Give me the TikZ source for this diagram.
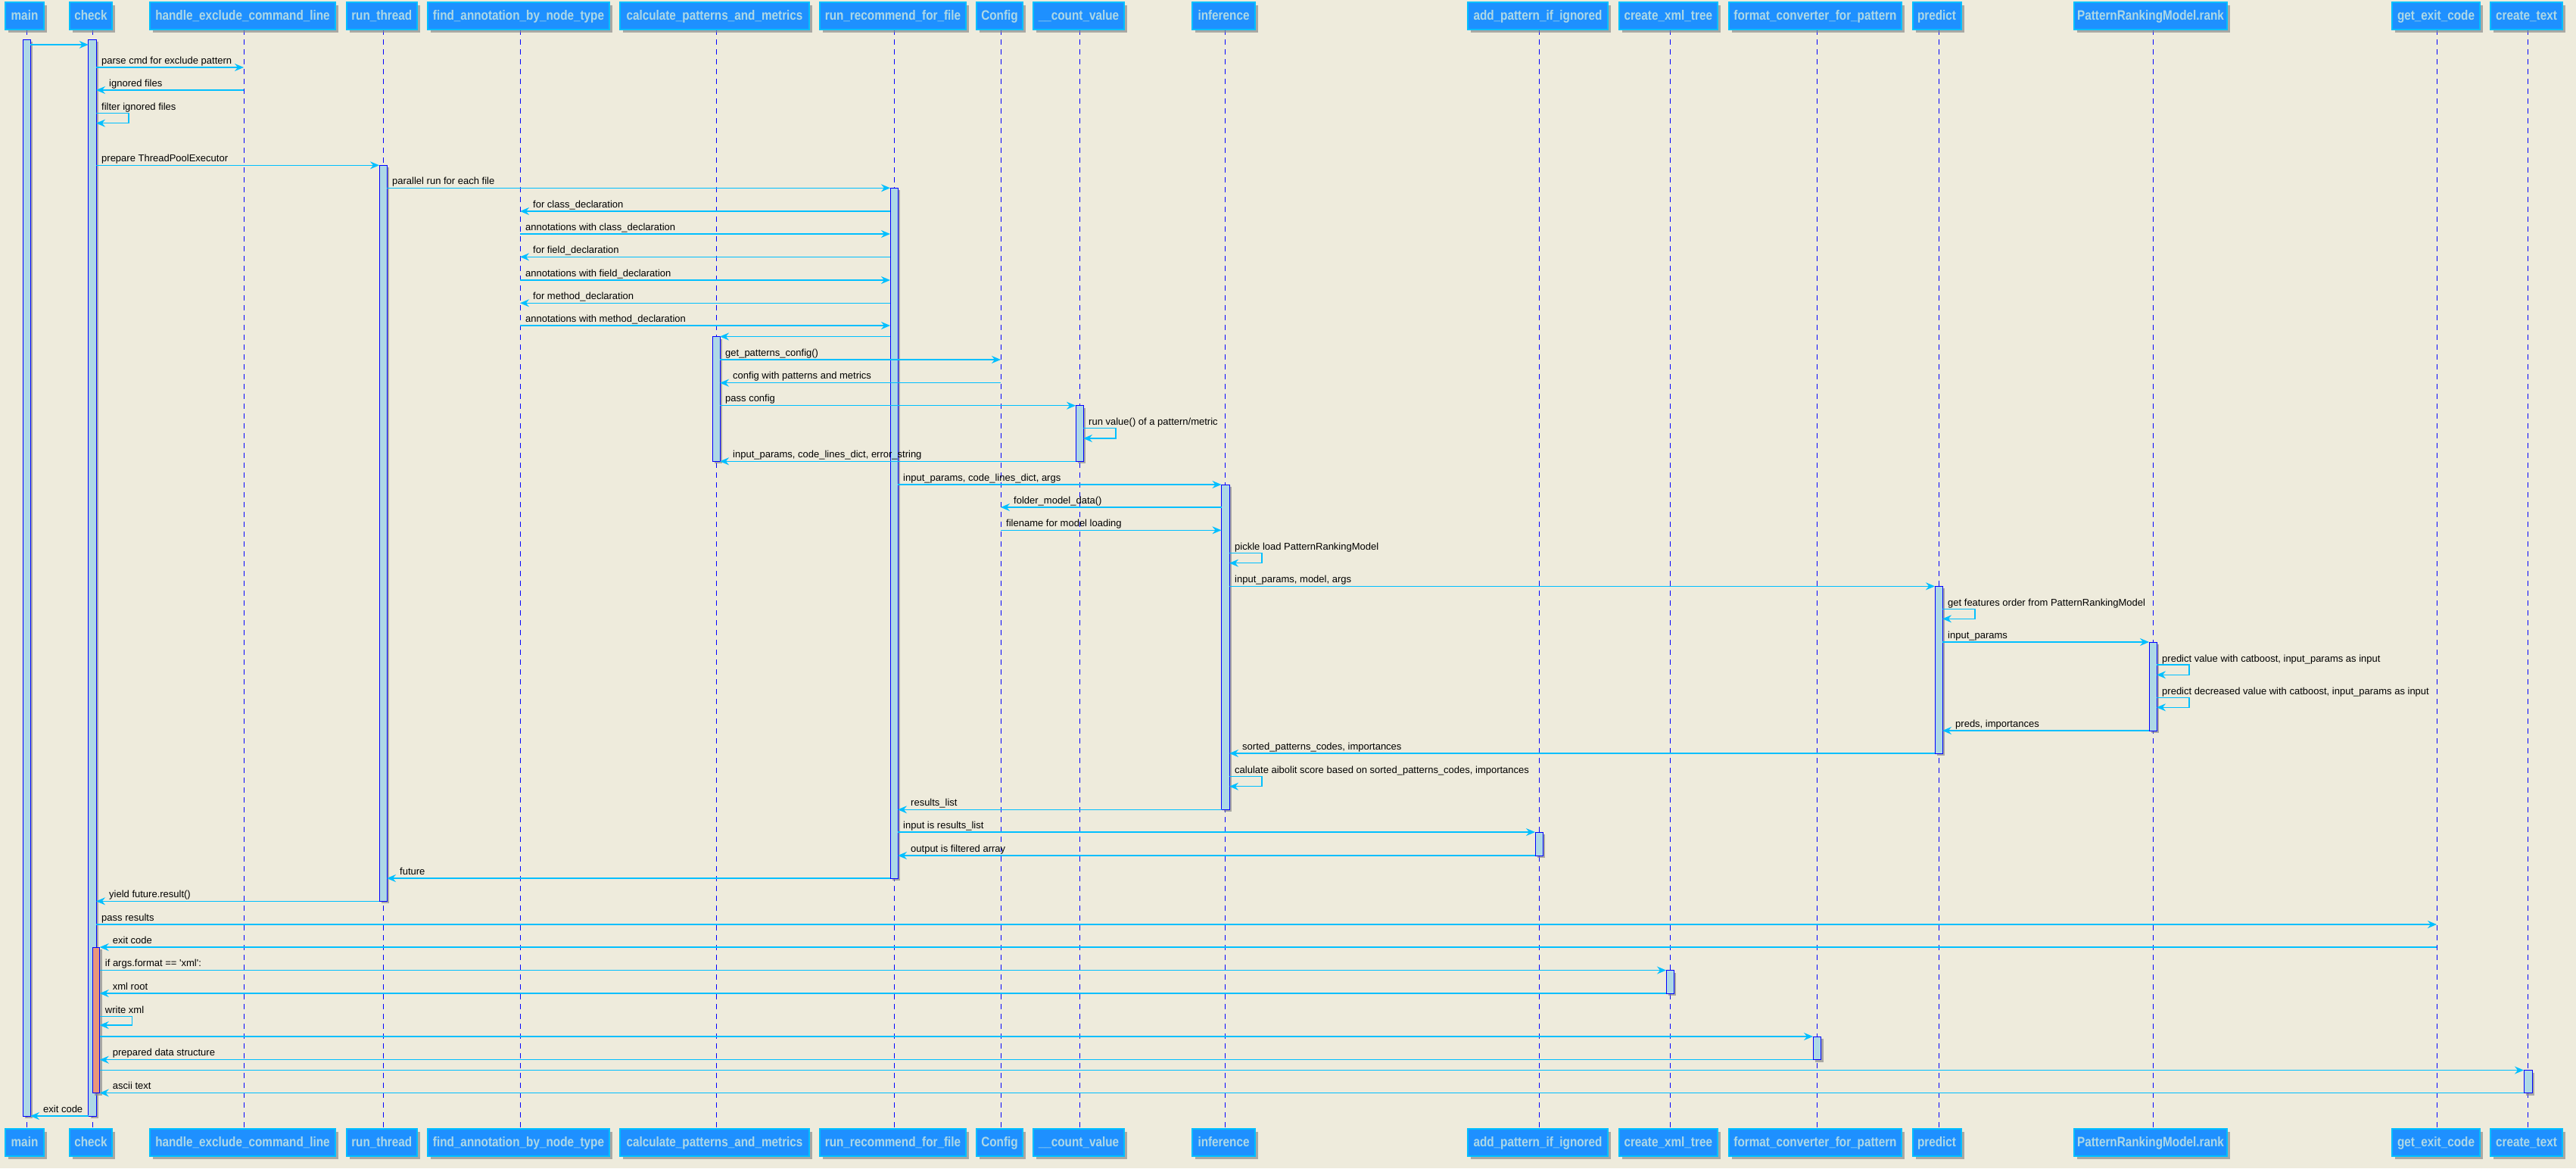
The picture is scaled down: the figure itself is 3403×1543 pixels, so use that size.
\documentclass[tikz,border=0pt]{standalone}
\usepackage{fontspec}
\setmainfont{Liberation Sans}
\newfontfamily\headfont{Liberation Sans}[FakeStretch=0.85]
\usetikzlibrary{arrows.meta,shadows}

\definecolor{paper}{HTML}{EEEBDC}
\definecolor{msgblue}{HTML}{00BFFF}
\definecolor{headfill}{HTML}{1E90FF}
\definecolor{headtext}{HTML}{ADD8E6}
\definecolor{actfill}{HTML}{ADD8E6}
\definecolor{actline}{HTML}{0000FF}
\definecolor{salmonfill}{HTML}{E9967A}
\definecolor{shade}{HTML}{8C8C8C}

\tikzset{
  head/.style={draw=msgblue, line width=2pt, fill=headfill, text=headtext,
    font=\headfont\bfseries\fontsize{18}{20}\selectfont,
    minimum height=36pt, inner sep=0pt, text height=13pt, text depth=2pt,
    drop shadow={shadow xshift=4pt, shadow yshift=-4pt, fill=shade, opacity=0.7}},
  lifeline/.style={draw=actline, line width=0.8pt, dash pattern=on 7pt off 6pt},
  act/.style={draw=actline, line width=1pt, fill=actfill,
    drop shadow={shadow xshift=3pt, shadow yshift=-3pt, fill=shade, opacity=0.7}},
  actsalmon/.style={act, fill=salmonfill},
  msg/.style={draw=msgblue, line width=1.4pt,
    -{Stealth[length=12pt, width=10pt, inset=4pt]}},
  selfline/.style={draw=msgblue, line width=1.2pt,
    -{Stealth[length=12pt, width=10pt, inset=4pt]}},
  lbl/.style={anchor=base west, inner sep=0pt, text=black,
    font=\fontsize{13}{15}\selectfont},
}

% message to the right: name, from x, to x, y, text
\newcommand\msgR[5]{%
  \draw[msg] (#2,#4) -- (#3,#4);
  \node[lbl] (#1) at (#2+7,#4-5) {#5};}
% message to the left: name, from x, to x, y, text
\newcommand\msgL[5]{%
  \draw[msg] (#2,#4) -- (#3,#4);
  \node[lbl] (#1) at (#3+17,#4-5) {#5};}
% message to self: name, x, top y, bottom y, text
\newcommand\selfmsg[5]{%
  \draw[selfline] (#2,#3) -- (#2+43,#3) -- (#2+43,#4) -- (#2,#4);
  \node[lbl] (#1) at (#2+7,#3-4) {#5};}
% participant: name, centre x, width, text (box on top and bottom)
\newcommand\participant[4]{%
  \node[head, minimum width=#3pt] (h-#1) at (#2,21) {#4};
  \node[head, minimum width=#3pt] (f-#1) at (#2,1508.5) {#4};}

\begin{document}
\begin{tikzpicture}[x=1pt,y=-1pt]
\useasboundingbox (0,0) rectangle (3403,1543);
\fill[paper] (0,0) rectangle (3403,1543);

% lifelines
\foreach \lx in {35,122,322,506,687,946,1181,1322,1426,1618.5,2033,2206,2400.5,2561,2844,3219,3339.5}
  \draw[lifeline] (\lx,39) -- (\lx,1491);

% participants
\participant{main}{32.5}{51}{main}
\participant{check}{120}{56}{check}
\participant{handle}{320.5}{245}{handle\_exclude\_command\_line}
\participant{runthread}{504.25}{93.5}{run\_thread}
\participant{find}{685}{240}{find\_annotation\_by\_node\_type}
\participant{calc}{944}{250}{calculate\_patterns\_and\_metrics}
\participant{recommend}{1179.5}{193}{run\_recommend\_for\_file}
\participant{config}{1320.5}{61}{Config}
\participant{count}{1425}{120}{\_\_count\_value}
\participant{inference}{1616.5}{83}{inference}
\participant{addpat}{2031.5}{185}{add\_pattern\_if\_ignored}
\participant{xmltree}{2203.75}{130.5}{create\_xml\_tree}
\participant{fmtconv}{2398}{228}{format\_converter\_for\_pattern}
\participant{predict}{2558.5}{64}{predict}
\participant{rank}{2841}{202}{PatternRankingModel.rank}
\participant{exitcode}{3218}{116}{get\_exit\_code}
\participant{createtext}{3337.5}{95}{create\_text}

% activations
\path[act] (30,52.3) rectangle (40,1474);
\path[act] (116.7,52.3) rectangle (127,1474);
\path[actsalmon] (122.3,1251) rectangle (131.7,1443.5);
\path[act] (501,218.3) rectangle (511,1190.3);
\path[act] (1176,248.3) rectangle (1186,1160);
\path[act] (941,444.5) rectangle (951,609.3);
\path[act] (1421,535.7) rectangle (1431,609.3);
\path[act] (1613.5,640) rectangle (1624,1069.3);
\path[act] (2556,774.3) rectangle (2566,995);
\path[act] (2839,848) rectangle (2849,965);
\path[act] (2028,1099) rectangle (2038,1130);
\path[act] (2201,1281.5) rectangle (2211,1312);
\path[act] (2395,1369) rectangle (2405.5,1399.7);
\path[act] (3334,1413.5) rectangle (3345,1443.5);

% messages
\draw[msg] (40,59) -- (116.7,59);
\msgR{m1}{127}{322}{89}{parse cmd for exclude pattern}
\msgL{m2}{322}{127}{119}{ignored files}
\selfmsg{m3}{127}{149.3}{162.7}{filter ignored files}
\msgR{m4}{127}{501}{218.3}{prepare ThreadPoolExecutor}
\msgR{m5}{511}{1176}{248.3}{parallel run for each file}
\msgL{m6}{1176}{687}{279}{for class\_declaration}
\msgR{m7}{687}{1176}{309}{annotations with class\_declaration}
\msgL{m8}{1176}{687}{339.3}{for field\_declaration}
\msgR{m9}{687}{1176}{370}{annotations with field\_declaration}
\msgL{m10}{1176}{687}{400.3}{for method\_declaration}
\msgR{m11}{687}{1176}{430}{annotations with method\_declaration}
\draw[msg] (1176,444.5) -- (951,444.5);
\msgR{m12}{951}{1322}{475}{get\_patterns\_config()}
\msgL{m13}{1322}{951}{505.7}{config with patterns and metrics}
\msgR{m14}{951}{1421}{535.7}{pass config}
\selfmsg{m15}{1431}{565.7}{579}{run value() of a pattern/metric}
\msgL{m16}{1421}{951}{609.3}{input\_params, code\_lines\_dict, error\_string}
\msgR{m17}{1186}{1613.5}{640}{input\_params, code\_lines\_dict, args}
\msgL{m18}{1613.5}{1322}{670}{folder\_model\_data()}
\msgR{m19}{1322}{1613.5}{700.3}{filename for model loading}
\selfmsg{m20}{1624}{730.3}{743.7}{pickle load PatternRankingModel}
\msgR{m21}{1624}{2556}{774.3}{input\_params, model, args}
\selfmsg{m22}{2566}{804.3}{817.3}{get features order from PatternRankingModel}
\msgR{m23}{2566}{2839}{848}{input\_params}
\selfmsg{m24}{2849}{878}{891.3}{predict value with catboost, input\_params as input}
\selfmsg{m25}{2849}{921.7}{934.3}{predict decreased value with catboost, input\_params as input}
\msgL{m26}{2839}{2566}{965}{preds, importances}
\msgL{m27}{2556}{1624}{995}{sorted\_patterns\_codes, importances}
\selfmsg{m28}{1624}{1025.3}{1038.7}{calulate aibolit score based on sorted\_patterns\_codes, importances}
\msgL{m29}{1613.5}{1186}{1069.3}{results\_list}
\msgR{m30}{1186}{2028}{1099}{input is results\_list}
\msgL{m31}{2028}{1186}{1130}{output is filtered array}
\msgL{m32}{1176}{511}{1160}{future}
\msgL{m33}{501}{127}{1190.3}{yield future.result()}
\msgR{m34}{127}{3219}{1221}{pass results}
\msgL{m35}{3219}{131.7}{1251}{exit code}
\msgR{m36}{131.7}{2201}{1281.5}{if args.format == \textquotesingle xml\textquotesingle:}
\msgL{m37}{2201}{131.7}{1312}{xml root}
\selfmsg{m38}{131.7}{1342.3}{1354}{write xml}
\draw[msg] (131.7,1369) -- (2395,1369);
\msgL{m39}{2395}{131.7}{1399.7}{prepared data structure}
\draw[msg] (131.7,1413.5) -- (3334,1413.5);
\msgL{m40}{3334}{131.7}{1443.5}{ascii text}
\msgL{m41}{116.7}{40}{1474}{exit code}
\end{tikzpicture}
\end{document}
